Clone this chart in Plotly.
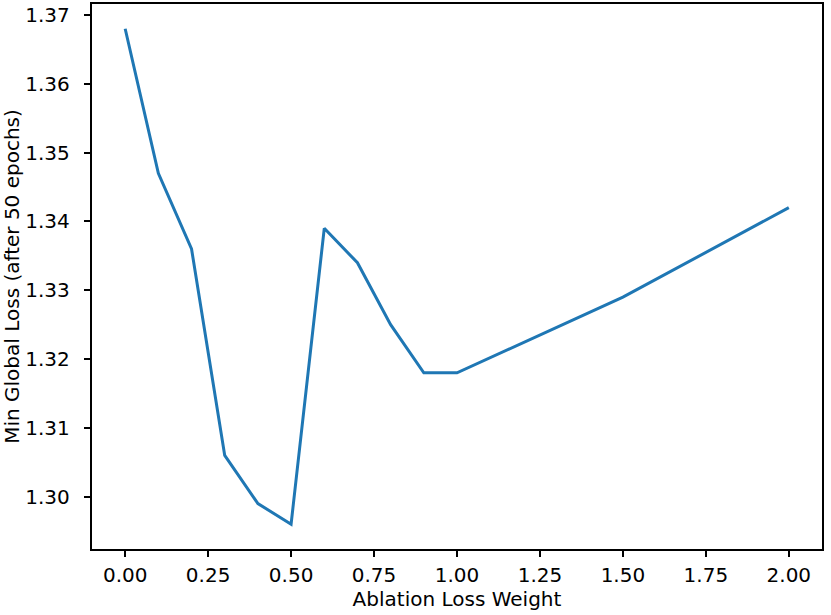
import plotly.graph_objects as go

weights = [0.0, 0.1, 0.2, 0.3, 0.4, 0.5, 0.6, 0.7, 0.8, 0.9, 1.0, 1.5, 2.0]
min_loss = [1.368, 1.347, 1.336, 1.306, 1.299, 1.296, 1.339, 1.334, 1.325, 1.318, 1.318, 1.329, 1.342]

x_ticks = [0.0, 0.25, 0.5, 0.75, 1.0, 1.25, 1.5, 1.75, 2.0]
x_tick_labels = ["0.00", "0.25", "0.50", "0.75", "1.00", "1.25", "1.50", "1.75", "2.00"]
y_ticks = [1.30, 1.31, 1.32, 1.33, 1.34, 1.35, 1.36, 1.37]
y_tick_labels = ["1.30", "1.31", "1.32", "1.33", "1.34", "1.35", "1.36", "1.37"]

FONT = "DejaVu Sans"
FS = 20
fig = go.Figure()
fig.add_trace(go.Scatter(x=weights, y=min_loss, mode="lines",
                         line=dict(color="#1f77b4", width=3), showlegend=False))

axis_common = dict(showline=True, linecolor="black", linewidth=1.5, mirror=True,
                   ticks="outside", ticklen=6.5, tickwidth=1.5, tickcolor="black",
                   showgrid=False, zeroline=False, automargin=False,
                   tickfont=dict(family=FONT, size=FS, color="black"))

fig.update_xaxes(range=[-0.1, 2.1], tickvals=x_ticks, ticktext=x_tick_labels,
                 title=dict(text="Ablation Loss Weight", font=dict(family=FONT, size=FS, color="black"), standoff=6),
                 ticklabelstandoff=1, **axis_common)
fig.update_yaxes(range=[1.2924, 1.3716], tickvals=y_ticks, ticktext=y_tick_labels,
                 title=dict(text="Min Global Loss (after 50 epochs)", font=dict(family=FONT, size=FS, color="black"), standoff=6),
                 ticklabelstandoff=10, **axis_common)

fig.update_layout(width=831, height=615, margin=dict(l=92, r=9, t=4, b=66),
                  plot_bgcolor="white", paper_bgcolor="white",
                  font=dict(family=FONT, size=FS, color="black"))
fig.write_html("out.html", config={"displayModeBar": False},
               post_script="document.body.style.margin='0';document.body.style.overflow='hidden';")
